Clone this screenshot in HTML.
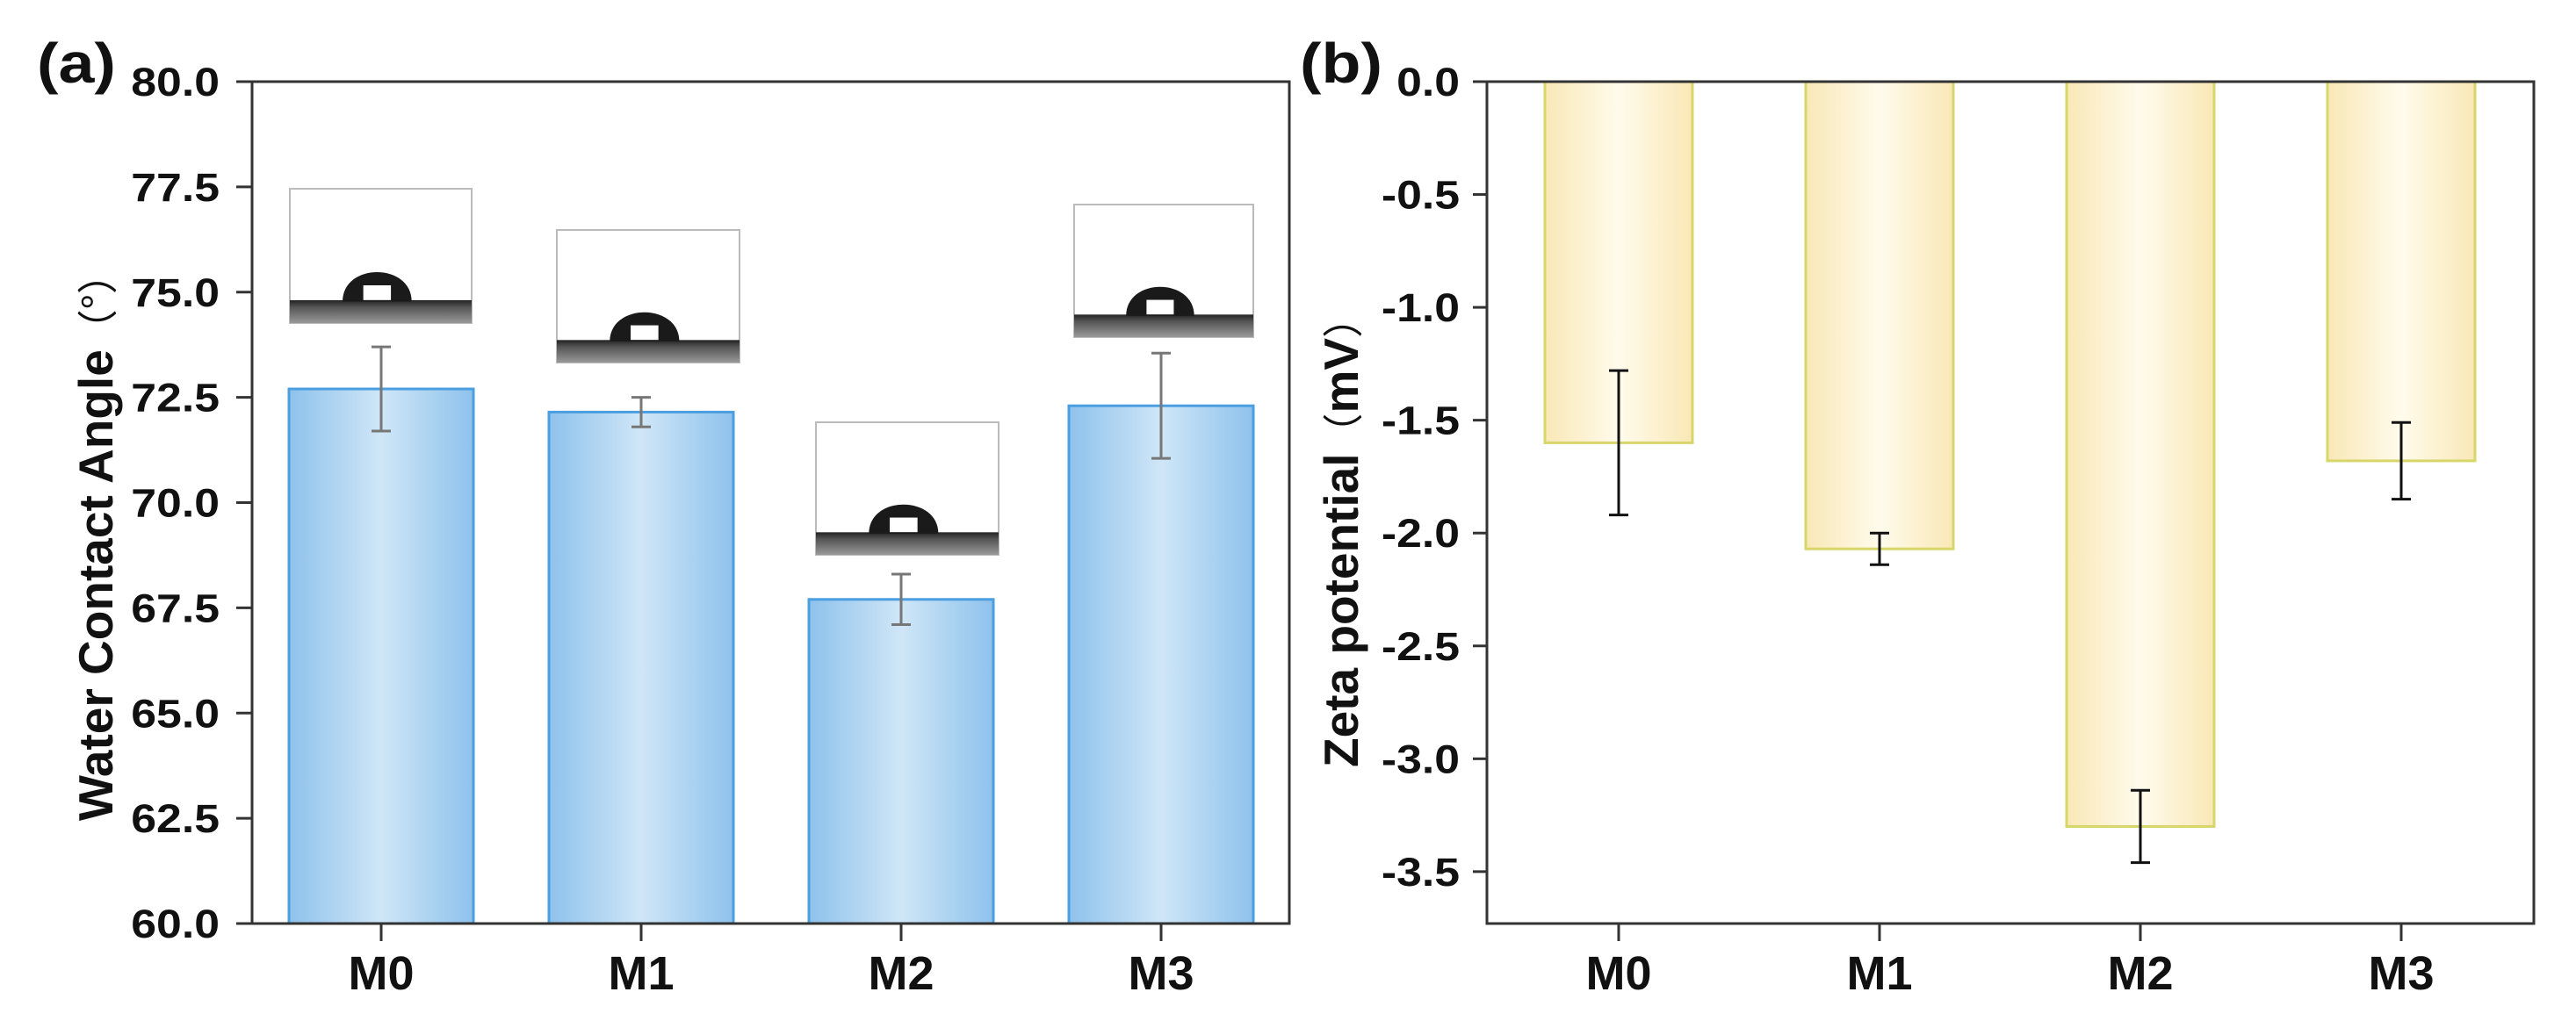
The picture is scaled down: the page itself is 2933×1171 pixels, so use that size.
<!DOCTYPE html>
<html><head><meta charset="utf-8"><style>
html,body{margin:0;padding:0;background:#fff;}
svg{display:block;}
text{font-family:"Liberation Sans","Noto Sans CJK SC",sans-serif;font-weight:bold;fill:#111;}
</style></head><body>
<svg id="fig" width="2933" height="1171" viewBox="0 0 2933 1171" xmlns="http://www.w3.org/2000/svg">
<defs>
<linearGradient id="gBlue" x1="0" x2="1" y1="0" y2="0">
<stop offset="0" stop-color="#8ec2ec"/><stop offset="0.5" stop-color="#cfe6f7"/><stop offset="1" stop-color="#8ec2ec"/>
</linearGradient>
<linearGradient id="gYel" x1="0" x2="1" y1="0" y2="0">
<stop offset="0" stop-color="#f9e8b6"/><stop offset="0.5" stop-color="#fffbec"/><stop offset="1" stop-color="#f9e8b6"/>
</linearGradient>
<linearGradient id="gGround" x1="0" x2="0" y1="0" y2="1">
<stop offset="0" stop-color="#222"/><stop offset="0.3" stop-color="#555"/><stop offset="1" stop-color="#999"/>
</linearGradient>
</defs>
</svg>
<script>
const categories = ["M0","M1","M2","M3"];
const wcaValues = [72.7, 72.15, 67.7, 72.3];
const wcaErrors = [1.0, 0.35, 0.6, 1.25];
const wcaTicks = ["60.0","62.5","65.0","67.5","70.0","72.5","75.0","77.5","80.0"];
const zetaValues = [-1.6, -2.07, -3.3, -1.68];
const zetaErrors = [0.32, 0.07, 0.16, 0.17];
const zetaTicks = ["0.0","-0.5","-1.0","-1.5","-2.0","-2.5","-3.0","-3.5"];

const NS = "http://www.w3.org/2000/svg";
const svg = document.getElementById("fig");
const TS = 1.15;
function mk(tag, attrs, parent){
  const e = document.createElementNS(NS, tag);
  for (const k in attrs) e.setAttribute(k, attrs[k]);
  (parent||svg).appendChild(e);
  return e;
}

const A = {left:287, right:1468, top:93, bottom:1052, min:60, max:80};
const ya = v => A.bottom - (v - A.min) / (A.max - A.min) * (A.bottom - A.top);
const xaCenters = i => 434 + i * 296;
const B = {left:1693, right:2885, top:93, bottom:1052, min:-3.73, max:0};
const yb = v => B.top + (B.max - v) / (B.max - B.min) * (B.bottom - B.top);
const xbCenters = i => 1843 + i * 297;

function tickLabel(parent, txt, xr, y, name){
  const t = mk("text", {x:0, y:0, "font-size":45, "text-anchor":"end", transform:`translate(${xr},${y+16}) scale(${TS},1)`}, parent);
  t.textContent = txt;
  
  
}

// ---- Panel a ----
const ga = mk("g", {});



const insets = [[330,537,215,368],[634,842,262,413],[929,1137,481,632],[1223,1427,233,384]];

categories.forEach((c,i)=>{
  const cx = xaCenters(i), w = 210;
  const r = mk("rect", {x:cx-w/2, y:ya(wcaValues[i]), width:w, height:A.bottom-ya(wcaValues[i]), fill:"url(#gBlue)", stroke:"#4b9fe0", "stroke-width":3}, ga);
  
  
  const eg = mk("g", {stroke:"#777", "stroke-width":3}, ga);
  
  
  const hi = ya(wcaValues[i] + wcaErrors[i]), lo = ya(wcaValues[i] - wcaErrors[i]);
  mk("line", {x1:cx, x2:cx, y1:hi, y2:lo}, eg);
  mk("line", {x1:cx-11, x2:cx+11, y1:hi, y2:hi}, eg);
  mk("line", {x1:cx-11, x2:cx+11, y1:lo, y2:lo}, eg);
});

insets.forEach((b,i)=>{
  const [x0,x1,y0,y1] = b, w = x1-x0, h = y1-y0;
  const g = mk("g", {}, ga);
  
  
  mk("rect", {x:x0, y:y0, width:w, height:h, fill:"#fff", stroke:"#bbb", "stroke-width":2}, g);
  mk("rect", {x:x0, y:y0+0.83*h, width:w, height:0.17*h, fill:"url(#gGround)"}, g);
  const dcx = x0 + 0.48*w, dr = 0.19*w, dh = 0.22*h, gy = y0+0.84*h;
  mk("path", {d:`M${dcx-dr},${gy} C${dcx-dr},${gy-dh*1.33} ${dcx+dr},${gy-dh*1.33} ${dcx+dr},${gy} Z`, fill:"#1a1a1a"}, g);
  mk("rect", {x:dcx-dr*0.4, y:gy-dh*0.55, width:dr*0.8, height:dh*0.5, fill:"#fff"}, g);
});

const axA = mk("g", {stroke:"#333", "stroke-width":3, fill:"none"}, ga);


mk("rect", {x:A.left, y:A.top, width:A.right-A.left, height:A.bottom-A.top}, axA);
wcaTicks.forEach(t=>{
  const y = ya(parseFloat(t));
  mk("line", {x1:A.left-18, x2:A.left, y1:y, y2:y}, axA);
  tickLabel(ga, t, 250, y, 'wca-y-tick-label');
});
categories.forEach((c,i)=>{
  const cx = xaCenters(i);
  mk("line", {x1:cx, x2:cx, y1:A.bottom, y2:A.bottom+20}, axA);
  const tx = mk("text", {x:cx, y:1127, "font-size":54, "text-anchor":"middle"}, ga);
  tx.textContent = c;
  
  
});
const ta = mk("text", {x:0, y:0, "font-size":55, "text-anchor":"start", transform:`translate(128,935) rotate(-90)`}, ga);
ta.innerHTML = 'Water Contact Angle<tspan font-weight="normal" font-size="46" font-family="Noto Sans CJK SC, sans-serif">（°）</tspan>';


const la = mk("text", {x:0, y:0, "font-size":64, transform:`translate(42,94) scale(${TS},1)`}, ga);
la.textContent = "(a)";



// ---- Panel b ----
const gb = mk("g", {});


categories.forEach((c,i)=>{
  const cx = xbCenters(i), w = 168;
  const r = mk("rect", {x:cx-w/2, y:yb(0), width:w, height:yb(zetaValues[i])-yb(0), fill:"url(#gYel)", stroke:"#d6d66a", "stroke-width":3}, gb);
  
  
  const eg = mk("g", {stroke:"#111", "stroke-width":3}, gb);
  
  
  const hi = yb(zetaValues[i] + zetaErrors[i]), lo = yb(zetaValues[i] - zetaErrors[i]);
  mk("line", {x1:cx, x2:cx, y1:hi, y2:lo}, eg);
  mk("line", {x1:cx-11, x2:cx+11, y1:hi, y2:hi}, eg);
  mk("line", {x1:cx-11, x2:cx+11, y1:lo, y2:lo}, eg);
});
const axB = mk("g", {stroke:"#333", "stroke-width":3, fill:"none"}, gb);


mk("rect", {x:B.left, y:B.top, width:B.right-B.left, height:B.bottom-B.top}, axB);
zetaTicks.forEach(t=>{
  const y = yb(parseFloat(t));
  mk("line", {x1:B.left-16, x2:B.left, y1:y, y2:y}, axB);
  tickLabel(gb, t, 1662, y, 'zeta-y-tick-label');
});
categories.forEach((c,i)=>{
  const cx = xbCenters(i);
  mk("line", {x1:cx, x2:cx, y1:B.bottom, y2:B.bottom+20}, axB);
  const tx = mk("text", {x:cx, y:1127, "font-size":54, "text-anchor":"middle"}, gb);
  tx.textContent = c;
  
  
});
const tb = mk("text", {x:0, y:0, "font-size":55, "text-anchor":"start", transform:`translate(1546,874) rotate(-90)`}, gb);
tb.innerHTML = 'Zeta potential<tspan font-weight="normal" font-size="46" font-family="Noto Sans CJK SC, sans-serif">（</tspan><tspan>mV</tspan><tspan font-weight="normal" font-size="46" font-family="Noto Sans CJK SC, sans-serif">）</tspan>';


const lb = mk("text", {x:0, y:0, "font-size":64, transform:`translate(1480,94) scale(${TS},1)`}, gb);
lb.textContent = "(b)";


</script>
</body></html>
